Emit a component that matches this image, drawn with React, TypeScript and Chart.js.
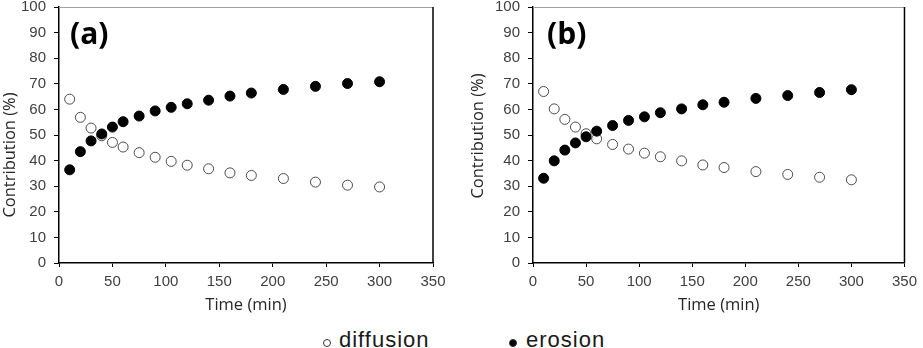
import React, { useEffect, useRef } from "react";
import { Chart, registerables } from "chart.js";

Chart.register(...registerables);

// ---- data ----
const timeMin = [10, 20, 30, 40, 50, 60, 75, 90, 105, 120, 140, 160, 180, 210, 240, 270, 300];
const diffusionA = [64.0, 56.9, 52.7, 49.7, 47.1, 45.3, 43.1, 41.3, 39.7, 38.2, 36.8, 35.2, 34.2, 33.0, 31.6, 30.4, 29.7];
const erosionA = [36.4, 43.5, 47.7, 50.4, 53.1, 55.2, 57.4, 59.4, 60.8, 62.2, 63.6, 65.2, 66.4, 67.8, 69.0, 70.1, 70.8];
const diffusionB = [67.0, 60.2, 56.1, 53.1, 50.5, 48.5, 46.3, 44.5, 42.9, 41.5, 39.9, 38.3, 37.3, 35.7, 34.6, 33.5, 32.5];
const erosionB = [33.1, 39.9, 44.1, 46.9, 49.3, 51.5, 53.7, 55.7, 57.1, 58.7, 60.2, 61.8, 62.8, 64.3, 65.4, 66.6, 67.7];
const seriesNames = ["diffusion", "erosion"];
const xAxisTitle = "Time (min)";
const yAxisTitle = "Contribution (%)";
const panelLabels = ["(a)", "(b)"];

const CANVAS_H = 328;
const CANVAS_TOP = -10;
const TICK_FONT = { family: "'Liberation Sans', Arial, sans-serif", size: 15 };
const TICK_COLOR = "#404040";
const TITLE_FONT_FAMILY = "'Open Sans', 'Liberation Sans', sans-serif";

const framePlugin = {
  id: "frame",
  afterDraw(chart: any) {
    const { ctx, chartArea } = chart;
    ctx.save();
    ctx.strokeStyle = "#a0a0a0";
    ctx.lineWidth = 1;
    ctx.beginPath();
    ctx.moveTo(chartArea.left, chartArea.top + 0.5);
    ctx.lineTo(chartArea.right, chartArea.top + 0.5);
    ctx.stroke();
    ctx.strokeStyle = "#000";
    ctx.lineWidth = 1.5;
    ctx.beginPath();
    ctx.moveTo(chartArea.right, chartArea.top);
    ctx.lineTo(chartArea.right, chartArea.bottom);
    ctx.stroke();
    ctx.restore();
  },
};

const yTitlePlugin = {
  id: "yTitle",
  afterDraw(chart: any, _args: any, opts: any) {
    const { ctx, chartArea } = chart;
    ctx.save();
    ctx.translate(opts.x, (chartArea.top + chartArea.bottom) / 2 + opts.shift);
    ctx.rotate(-Math.PI / 2);
    ctx.font = `16.5px ${TITLE_FONT_FAMILY}`;
    ctx.fillStyle = "#262626";
    ctx.textAlign = "center";
    ctx.textBaseline = "middle";
    ctx.fillText(opts.text, 0, 0);
    ctx.restore();
  },
};

type PanelProps = {
  label: string;
  diffusion: number[];
  erosion: number[];
  left: number;
  width: number;
  yAxisWidth: number;
  padRight: number;
  titleX: number;
  titleShift: number;
  labelLeft: number;
};

function Panel(p: PanelProps) {
  const ref = useRef<HTMLCanvasElement>(null);
  useEffect(() => {
    const toPts = (ys: number[]) => timeMin.map((x, i) => ({ x, y: ys[i] }));
    const chart = new Chart(ref.current as HTMLCanvasElement, {
      type: "scatter",
      data: {
        datasets: [
          {
            label: seriesNames[0],
            data: toPts(p.diffusion),
            pointStyle: "circle",
            pointRadius: 5,
            pointBackgroundColor: "#ffffff",
            pointBorderColor: "#4a4a4a",
            pointBorderWidth: 1,
            showLine: false,
            order: 1,
          },
          {
            label: seriesNames[1],
            data: toPts(p.erosion),
            pointStyle: "circle",
            pointRadius: 5,
            pointBackgroundColor: "#000000",
            pointBorderColor: "#000000",
            pointBorderWidth: 1,
            showLine: false,
            order: 0,
          },
        ],
      },
      options: {
        responsive: false,
        animation: false,
        devicePixelRatio: 1,
        layout: { padding: { left: 0, right: p.padRight, top: 0, bottom: 0 } },
        plugins: {
          legend: { display: false },
          tooltip: { enabled: false },
          yTitle: { text: yAxisTitle, x: p.titleX, shift: p.titleShift },
        } as any,
        scales: {
          x: {
            type: "linear",
            min: 0,
            max: 350,
            ticks: { stepSize: 50, font: TICK_FONT, color: TICK_COLOR, padding: 6 },
            grid: { drawOnChartArea: false, drawTicks: true, tickLength: 4, color: "#000" },
            border: { display: true, color: "#000", width: 1.5 },
            title: {
              display: true,
              text: xAxisTitle,
              font: { family: TITLE_FONT_FAMILY, size: 16.5 },
              color: "#262626",
              padding: { top: 0, bottom: 3 },
            },
            afterFit: (s: any) => {
              s.height = 55;
            },
          },
          y: {
            type: "linear",
            min: 0,
            max: 100,
            ticks: { stepSize: 10, font: TICK_FONT, color: TICK_COLOR, padding: 8 },
            grid: { drawOnChartArea: false, drawTicks: true, tickLength: 5, color: "#000" },
            border: { display: true, color: "#000", width: 1.5 },
            afterFit: (s: any) => {
              s.width = p.yAxisWidth;
            },
          },
        },
      },
      plugins: [framePlugin, yTitlePlugin],
    });
    return () => chart.destroy();
  }, []);
  return (
    <>
      <canvas
        ref={ref}
        width={p.width}
        height={CANVAS_H}
        style={{ position: "absolute", left: p.left, top: CANVAS_TOP, width: p.width, height: CANVAS_H }}
      />
      <div
        style={{
          position: "absolute",
          left: p.labelLeft,
          top: 13,
          font: `bold 30px ${TITLE_FONT_FAMILY}`,
          lineHeight: "40px",
          color: "#000",
        }}
      >
        {p.label}
      </div>
    </>
  );
}

function Legend() {
  const dot = (filled: boolean, cx: number) => (
    <div
      style={{
        position: "absolute",
        left: cx - 4,
        top: 343 - 4,
        width: 8,
        height: 8,
        boxSizing: "border-box",
        borderRadius: "50%",
        border: "1px solid #333",
        background: filled ? "#000" : "#fff",
      }}
    />
  );
  const txt = (s: string, left: number) => (
    <div
      style={{
        position: "absolute",
        left,
        top: 326,
        font: "22px 'Liberation Sans', Arial, sans-serif",
        letterSpacing: "1px",
        lineHeight: "28px",
        color: "#1a1a1a",
        whiteSpace: "nowrap",
      }}
    >
      {s}
    </div>
  );
  return (
    <>
      {dot(false, 327)}
      {txt(seriesNames[0], 339)}
      {dot(true, 513)}
      {txt(seriesNames[1], 526)}
    </>
  );
}

export default function App() {
  return (
    <div style={{ position: "absolute", left: 0, top: 0, width: 923, height: 348, background: "#fff", overflow: "hidden" }}>
      <Panel
        label={panelLabels[0]}
        diffusion={diffusionA}
        erosion={erosionA}
        left={0}
        width={462}
        yAxisWidth={59}
        padRight={29}
        titleX={10}
        titleShift={20}
        labelLeft={70}
      />
      <Panel
        label={panelLabels[1]}
        diffusion={diffusionB}
        erosion={erosionB}
        left={462}
        width={461}
        yAxisWidth={71}
        padRight={14}
        titleX={16}
        titleShift={1}
        labelLeft={547}
      />
      <Legend />
    </div>
  );
}
